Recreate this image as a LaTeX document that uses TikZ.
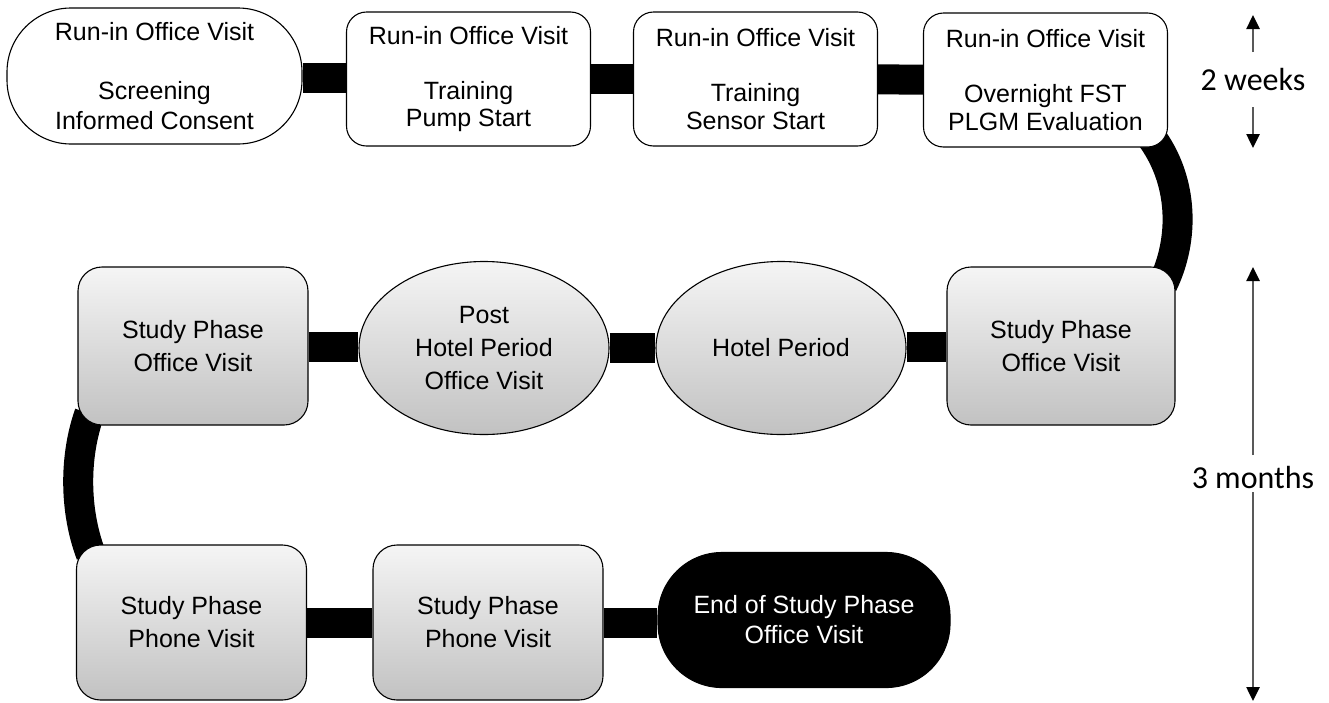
\documentclass[tikz,border=0pt]{standalone}
\usepackage{fontspec}
\setmainfont{Liberation Sans}
\newfontfamily\labelfont{Carlito}
\usetikzlibrary{backgrounds,arrows.meta,shapes.geometric}
\begin{document}
\begin{tikzpicture}[x=1pt,y=-1pt,
  base/.style={draw=black,line width=1.1pt,align=center,inner sep=0pt,
    font=\fontsize{25}{30}\selectfont},
  whitebox/.style={base,fill=white,rounded corners=20pt,minimum width=244pt,minimum height=134pt},
  graybox/.style={base,top color=gray!8,bottom color=gray!48,rounded corners=24pt,
    minimum width=230pt,minimum height=158pt,font=\fontsize{25}{33}\selectfont},
  grayell/.style={base,ellipse,top color=gray!8,bottom color=gray!48,
    minimum width=250pt,minimum height=173pt,font=\fontsize{25}{33}\selectfont},
  bar/.style={line width=30pt,black},
  dimarrow/.style={draw=gray!70!black,line width=2.6pt,
    -{Triangle[width=13pt,length=14pt,color=black]}},
  dimlabel/.style={font=\labelfont\fontsize{32}{36}\selectfont,inner sep=0pt}]
\useasboundingbox (0,0) rectangle (1329,702);
% top row
\node[base,fill=white,rounded corners=64pt,minimum width=295pt,minimum height=136pt,
  font=\fontsize{25}{29.5}\selectfont] (A) at (154.5,76)
  {Run-in Office Visit\\[29.5pt]Screening\\Informed Consent};
\node[whitebox,font=\fontsize{25}{27.5}\selectfont] (B) at (468.5,79)
  {Run-in Office Visit\\[27.5pt]Training\\Pump Start};
\node[whitebox,font=\fontsize{25}{27.5}\selectfont] (C) at (755.5,79)
  {Run-in Office Visit\\[27.5pt]Training\\Sensor Start};
\node[whitebox,font=\fontsize{25}{27.5}\selectfont] (D) at (1045.5,80)
  {Run-in Office Visit\\[27.5pt]Overnight FST\\PLGM Evaluation};
% middle row
\node[graybox] (E) at (193,346) {Study Phase\\Office Visit};
\node[grayell] (F) at (484,348) {Post\\Hotel Period\\Office Visit};
\node[grayell] (G) at (781,348) {Hotel Period};
\node[graybox,minimum width=228pt] (H) at (1061,346) {Study Phase\\Office Visit};
% bottom row
\node[graybox,minimum width=230pt,minimum height=155pt] (I) at (191.5,622.5) {Study Phase\\Phone Visit};
\node[graybox,minimum width=230pt,minimum height=155pt] (J) at (488,622.5) {Study Phase\\Phone Visit};
\node[base,fill=black,text=white,rounded corners=64pt,minimum width=292pt,minimum height=135pt,
  font=\fontsize{25}{30}\selectfont] (K) at (804,620) {End of Study Phase\\Office Visit};
% connectors
\begin{scope}[on background layer]
\draw[bar] (A.east |- 0,78) -- (B.west |- 0,78);
\draw[bar] (B) -- (C);
\draw[bar] (C) -- (D);
\draw[bar] ([shift={(-18,-12)}]D.south east) .. controls +(34,45) and +(22,-45) .. ([shift={(-13,18)}]H.north east);
\draw[bar] (E.east |- 0,347) -- (F.west |- 0,347);
\draw[bar] (F) -- (G);
\draw[bar] (G.east |- 0,347) -- (H.west |- 0,347);
\draw[bar] ([shift={(12,-12)}]E.south west) .. controls +(-15,42) and +(-17,-45) .. ([shift={(15,10)}]I.north west);
\draw[bar] (I.east |- 0,623) -- (J.west |- 0,623);
\draw[bar] (J.east |- 0,623) -- (K.west |- 0,623);
\end{scope}
% duration marks
\node[dimlabel] (wk) at (1253,80) {2 weeks};
\coordinate (wkTop) at (1253,15);
\coordinate (wkBot) at (1253,148);
\draw[dimarrow] (1253,52) -- (wkTop);
\draw[dimarrow] (1253,107) -- (wkBot);
\node[dimlabel] (mo) at (1253,477) {3 months};
\coordinate (moTop) at (1253,267);
\coordinate (moBot) at (1253,701);
\draw[dimarrow] (1253,455) -- (moTop);
\draw[dimarrow] (1253,492) -- (moBot);
\end{tikzpicture}
\end{document}
